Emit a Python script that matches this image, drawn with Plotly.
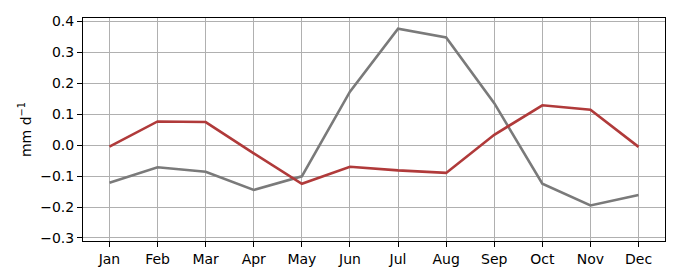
import plotly.graph_objects as go

months = ["Jan", "Feb", "Mar", "Apr", "May", "Jun", "Jul", "Aug", "Sep", "Oct", "Nov", "Dec"]
gray_vals = [-0.122, -0.072, -0.086, -0.145, -0.101, 0.172, 0.375, 0.347, 0.135, -0.125, -0.195, -0.161]
red_vals = [-0.005, 0.076, 0.074, -0.027, -0.125, -0.070, -0.082, -0.090, 0.033, 0.128, 0.114, -0.006]
y_ticks = [-0.3, -0.2, -0.1, 0.0, 0.1, 0.2, 0.3, 0.4]
y_ticklabels = ["\u22120.3", "\u22120.2", "\u22120.1", "0.0", "0.1", "0.2", "0.3", "0.4"]

x = list(range(len(months)))

fig = go.Figure()
fig.add_trace(go.Scatter(x=x, y=gray_vals, mode="lines",
                         line=dict(color="#7a7a7a", width=2.6), showlegend=False))
fig.add_trace(go.Scatter(x=x, y=red_vals, mode="lines",
                         line=dict(color="#b03a3a", width=2.6), showlegend=False))

font = dict(family="DejaVu Sans", size=14, color="black")
fig.update_layout(
    width=680, height=280,
    margin=dict(l=83, r=15, t=18, b=39),
    plot_bgcolor="white", paper_bgcolor="white",
    font=font,
)
fig.update_xaxes(
    range=[-0.55, 11.55], tickmode="array", tickvals=x, ticktext=months,
    showgrid=True, gridcolor="#b0b0b0", gridwidth=1,
    showline=True, linecolor="black", linewidth=1, mirror=True,
    ticks="outside", ticklen=5, tickcolor="black", zeroline=False,
    tickfont=font,
)
fig.update_yaxes(
    range=[-0.3097, 0.4097], tickmode="array", tickvals=y_ticks, ticktext=y_ticklabels,
    showgrid=True, gridcolor="#b0b0b0", gridwidth=1,
    showline=True, linecolor="black", linewidth=1, mirror=True,
    ticks="outside", ticklen=5, tickcolor="black", zeroline=False,
    tickfont=font,
    title=dict(text="mm d<sup>\u22121</sup>", standoff=5, font=font),
)
fig.write_html("out.html")
